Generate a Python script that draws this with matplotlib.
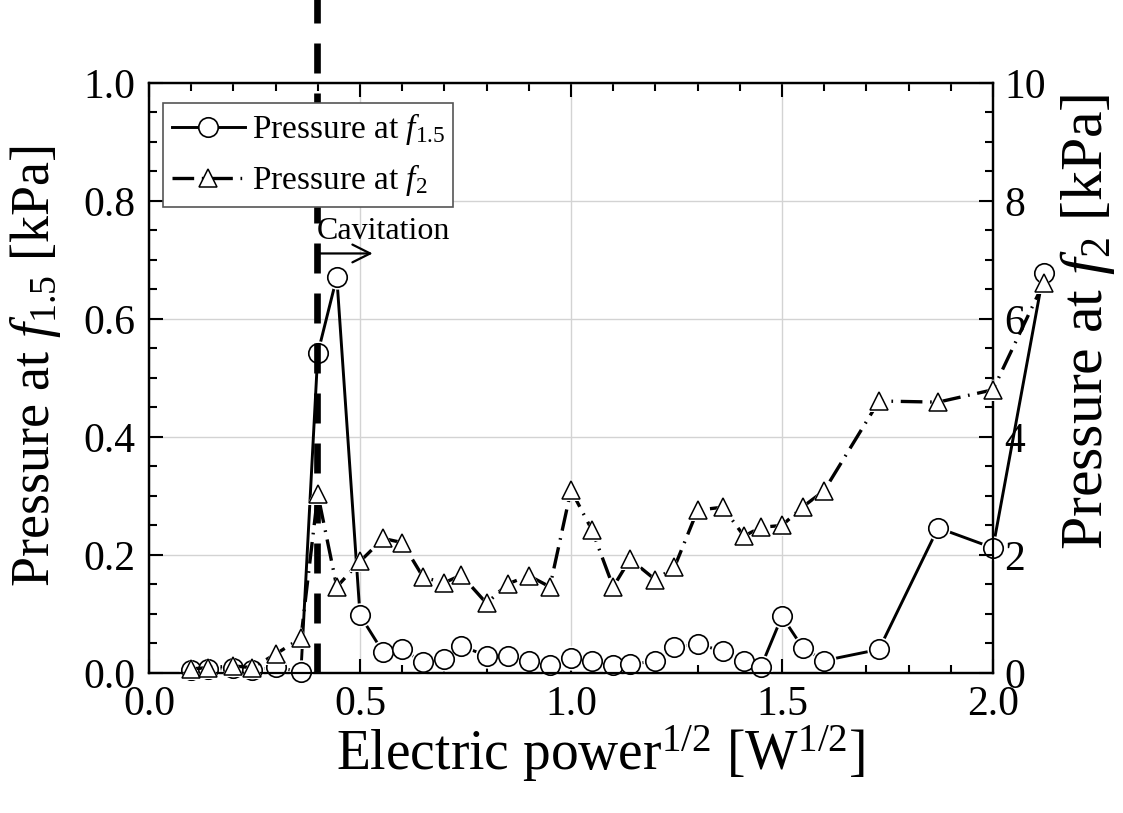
import matplotlib
matplotlib.use("Agg")
import matplotlib.pyplot as plt
from matplotlib.lines import Line2D
from matplotlib.ticker import MultipleLocator

plt.rcParams['font.family'] = ['Liberation Serif', 'DejaVu Serif']
plt.rcParams['mathtext.fontset'] = 'custom'
plt.rcParams['mathtext.rm'] = 'Liberation Serif'
plt.rcParams['mathtext.it'] = 'Liberation Serif:italic'
plt.rcParams['mathtext.bf'] = 'Liberation Serif:bold'

# ---- data ----
power_sqrt = [0.10, 0.14, 0.20, 0.245, 0.30, 0.36, 0.40, 0.445, 0.50, 0.555,
              0.60, 0.65, 0.70, 0.74, 0.80, 0.85, 0.90, 0.95, 1.00, 1.05,
              1.10, 1.14, 1.20, 1.245, 1.30, 1.36, 1.41, 1.45, 1.50, 1.55,
              1.60, 1.73, 1.87, 2.00, 2.12]
pressure_f15 = [0.005, 0.006, 0.008, 0.005, 0.010, 0.002, 0.542, 0.671, 0.098, 0.035,
                0.040, 0.018, 0.023, 0.046, 0.029, 0.029, 0.020, 0.014, 0.026, 0.020,
                0.013, 0.015, 0.020, 0.044, 0.049, 0.037, 0.021, 0.010, 0.096, 0.042,
                0.021, 0.040, 0.246, 0.212, 0.678]
pressure_f2 = [0.07, 0.09, 0.12, 0.09, 0.32, 0.59, 3.03, 1.46, 1.89, 2.28,
               2.21, 1.62, 1.53, 1.66, 1.18, 1.51, 1.65, 1.46, 3.10, 2.42,
               1.46, 1.93, 1.58, 1.79, 2.76, 2.81, 2.32, 2.47, 2.50, 2.82,
               3.09, 4.61, 4.59, 4.80, 6.61]
cavitation_x = 0.397
xticks = [0.0, 0.5, 1.0, 1.5, 2.0]
yticks_left = [0.0, 0.2, 0.4, 0.6, 0.8, 1.0]
yticks_right = [0, 2, 4, 6, 8, 10]

fig = plt.figure(figsize=(11.23, 8.13), dpi=100)
ax = fig.add_axes([0.1327, 0.1722, 0.8842 - 0.1327, 0.898 - 0.1722])
ax2 = ax.twinx()

TICK_FS = 30

dash_f2 = (0, (6.5, 2.3, 0.5, 2.3))

# solid series (left axis)
ax.plot(power_sqrt, pressure_f15, color='black', lw=2.1, clip_on=False, zorder=3)
ax.plot(power_sqrt, pressure_f15, ls='none', marker='o', ms=17.5, mfc='white', mec='white',
        mew=0, clip_on=False, zorder=4)
ax.plot(power_sqrt, pressure_f15, ls='none', marker='o', ms=14, mfc='white', mec='black',
        mew=1.2, clip_on=False, zorder=5)

# cavitation line
ax.plot([cavitation_x, cavitation_x], [0, 1.2], color='black', lw=4.8,
        ls=(0, (4.5, 3.0)), clip_on=False, zorder=6)

# dashed series (right axis)
ax2.plot(power_sqrt, pressure_f2, color='black', lw=2.4, ls=dash_f2, clip_on=False, zorder=3)
ax2.plot(power_sqrt, pressure_f2, ls='none', marker='^', ms=15.5, mfc='white', mec='white',
         mew=0, clip_on=False, zorder=4)
ax2.plot(power_sqrt, pressure_f2, ls='none', marker='^', ms=12.5, mfc='white', mec='black',
         mew=1.1, clip_on=False, zorder=5)

ax.set_xlim(0, 2.0)
ax.set_ylim(0, 1.0)
ax2.set_ylim(0, 10)

ax.set_xticks(xticks)
ax.set_xticklabels([f"{v:.1f}" for v in xticks])
ax.set_yticks(yticks_left)
ax.set_yticklabels([f"{v:.1f}" for v in yticks_left])
ax2.set_yticks(yticks_right)
ax2.set_yticklabels([str(v) for v in yticks_right])
ax.xaxis.set_minor_locator(MultipleLocator(0.1))
ax.yaxis.set_minor_locator(MultipleLocator(0.05))
ax2.yaxis.set_minor_locator(MultipleLocator(0.5))

ax.tick_params(which='both', direction='in', top=True, right=False, width=1.5,
               labelsize=TICK_FS)
ax.tick_params(axis='y', pad=10)
ax.tick_params(axis='x', pad=9)
ax.tick_params(which='major', length=10)
ax.tick_params(which='minor', length=6)
ax2.tick_params(which='both', direction='in', width=1.5, labelsize=TICK_FS, pad=8)
ax2.tick_params(which='major', length=10)
ax2.tick_params(which='minor', length=6)

for a in (ax, ax2):
    for s in a.spines.values():
        s.set_linewidth(1.6)

ax.grid(True, which='major', color='#d3d3d3', lw=1.0, zorder=0)
ax.set_axisbelow(True)

ax.set_xlabel('Electric power$^{1/2}$ [W$^{1/2}$]', fontsize=40)
ax.xaxis.set_label_coords(0.535, -0.085)
ax.set_ylabel('Pressure at $f_{1.5}$ [kPa]', fontsize=39)
ax.yaxis.set_label_coords(-0.102, 0.52)
ax2.set_ylabel('Pressure at $f_{2}$ [kPa]', fontsize=43)
ax2.yaxis.set_label_coords(1.077, 0.595)

# cavitation annotation
ax.text(cavitation_x, 0.735, 'Cavitation', fontsize=23, ha='left', va='baseline', zorder=7)
ax.annotate('', xy=(0.53, 0.711), xytext=(cavitation_x + 0.005, 0.711),
            arrowprops=dict(arrowstyle='->', lw=1.6, color='black',
                            mutation_scale=32, shrinkA=0, shrinkB=0), zorder=7)

handles = [
    Line2D([], [], color='black', lw=2.1, marker='o', ms=14, mfc='white', mec='black', mew=1.2),
    Line2D([], [], color='black', lw=2.4, ls=dash_f2, marker='^', ms=12.5, mfc='white',
           mec='black', mew=1.1),
]
leg = ax2.legend(handles, ['Pressure at $f_{1.5}$', 'Pressure at $f_{2}$'],
                 loc='upper left', bbox_to_anchor=(0.017, 0.966), fontsize=24,
                 frameon=True, fancybox=False, framealpha=1, edgecolor='#555555',
                 handlelength=2.2, handletextpad=0.2, borderpad=0.25, labelspacing=0.45,
                 borderaxespad=0)
leg.get_frame().set_linewidth(1.2)

fig.savefig('out.png', dpi=100)
